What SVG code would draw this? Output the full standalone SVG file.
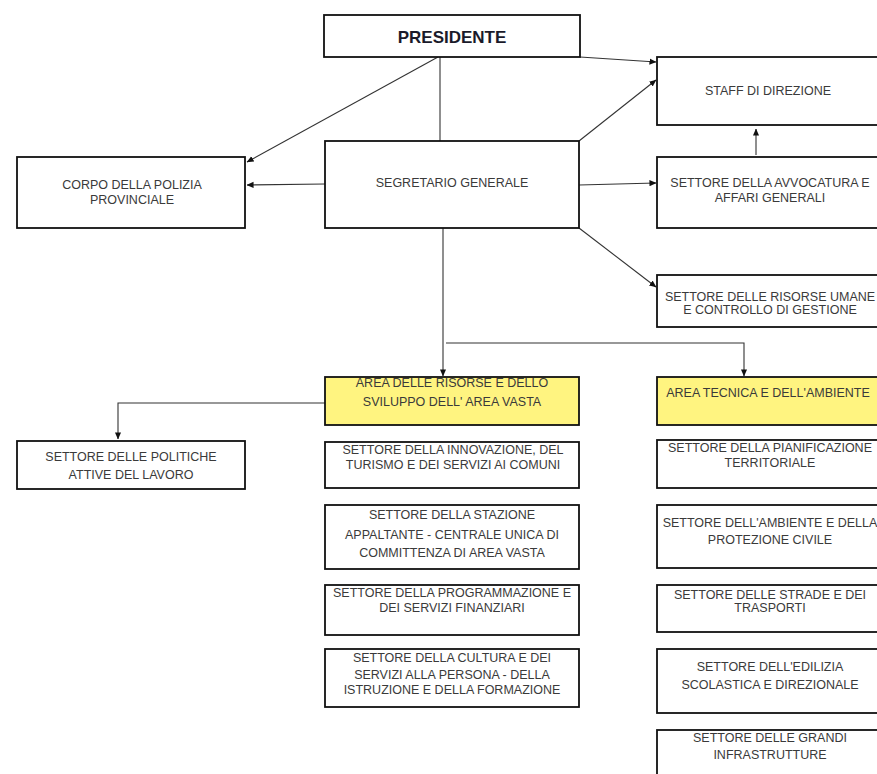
<svg xmlns="http://www.w3.org/2000/svg" width="877" height="774" viewBox="0 0 877 774">
<style>
.box{fill:#fff;stroke:#111;stroke-width:1.8}
.area{fill:#fff480;stroke:#111;stroke-width:1.8}
.t{font-family:"Liberation Sans",Arial,sans-serif;font-size:12.5px;fill:#3a3a3a;text-anchor:middle}
.tb{font-family:"Liberation Sans",Arial,sans-serif;font-size:17px;font-weight:bold;fill:#1a1a2a;text-anchor:middle}
.c{fill:none;stroke:#333;stroke-width:1.1}
</style>
<defs>
<marker id="ah" viewBox="0 0 8 8" refX="7.5" refY="4" markerWidth="7" markerHeight="7" markerUnits="userSpaceOnUse" orient="auto">
<path d="M0,0.5 L8,4 L0,7.5 Z" fill="#111"/>
</marker>
</defs>
<rect width="877" height="774" fill="#fff"/>
<g id="connectors">
<line class="c" x1="438" y1="57" x2="247" y2="162" marker-end="url(#ah)"/>
<line class="c" x1="440" y1="57" x2="440" y2="141"/>
<line class="c" x1="580" y1="57" x2="656" y2="62" marker-end="url(#ah)"/>
<line class="c" x1="579" y1="141" x2="656" y2="80" marker-end="url(#ah)"/>
<line class="c" x1="325" y1="184" x2="247" y2="185" marker-end="url(#ah)"/>
<line class="c" x1="579" y1="185" x2="656" y2="183" marker-end="url(#ah)"/>
<line class="c" x1="579" y1="228" x2="656" y2="287" marker-end="url(#ah)"/>
<line class="c" x1="756" y1="155" x2="756" y2="129" marker-end="url(#ah)"/>
<line class="c" x1="443" y1="228" x2="443" y2="376" marker-end="url(#ah)"/>
<path class="c" d="M446,343 H744 V376" marker-end="url(#ah)"/>
<path class="c" d="M325,403 H118 V439" marker-end="url(#ah)"/>
</g>
<g id="presidente">
<rect class="box" x="324" y="15" width="256" height="42"/>
<text class="tb" x="452" y="43">PRESIDENTE</text>
</g>
<g id="staff">
<rect class="box" x="657" y="57" width="230" height="68"/>
<text class="t" x="768" y="95">STAFF DI DIREZIONE</text>
</g>
<g id="corpo">
<rect class="box" x="17" y="157" width="228" height="71"/>
<text class="t" x="132" y="189">CORPO DELLA POLIZIA</text>
<text class="t" x="132" y="204">PROVINCIALE</text>
</g>
<g id="segretario">
<rect class="box" x="325" y="141" width="254" height="87"/>
<text class="t" x="452" y="187">SEGRETARIO GENERALE</text>
</g>
<g id="avvocatura">
<rect class="box" x="657" y="157" width="230" height="71"/>
<text class="t" x="770" y="187">SETTORE DELLA AVVOCATURA E</text>
<text class="t" x="770" y="202">AFFARI GENERALI</text>
</g>
<g id="risorse-umane">
<rect class="box" x="657" y="275" width="230" height="52"/>
<text class="t" x="770" y="301">SETTORE DELLE RISORSE UMANE</text>
<text class="t" x="770" y="314">E CONTROLLO DI GESTIONE</text>
</g>
<g id="area-risorse">
<rect class="area" x="325" y="377" width="254" height="48"/>
<text class="t" x="452" y="387">AREA DELLE RISORSE E DELLO</text>
<text class="t" x="452" y="406">SVILUPPO DELL' AREA VASTA</text>
</g>
<g id="politiche">
<rect class="box" x="17" y="441" width="228" height="48"/>
<text class="t" x="131" y="461">SETTORE DELLE POLITICHE</text>
<text class="t" x="131" y="479">ATTIVE DEL LAVORO</text>
</g>
<g id="innovazione">
<rect class="box" x="325" y="442" width="254" height="46"/>
<text class="t" x="453" y="454">SETTORE DELLA INNOVAZIONE, DEL</text>
<text class="t" x="453" y="469">TURISMO E DEI SERVIZI AI COMUNI</text>
</g>
<g id="stazione">
<rect class="box" x="325" y="505" width="254" height="64"/>
<text class="t" x="452" y="519">SETTORE DELLA STAZIONE</text>
<text class="t" x="452" y="539">APPALTANTE - CENTRALE UNICA DI</text>
<text class="t" x="452" y="557">COMMITTENZA  DI AREA VASTA</text>
</g>
<g id="programmazione">
<rect class="box" x="325" y="585" width="254" height="50"/>
<text class="t" x="452" y="597">SETTORE DELLA PROGRAMMAZIONE E</text>
<text class="t" x="452" y="612">DEI  SERVIZI FINANZIARI</text>
</g>
<g id="cultura">
<rect class="box" x="325" y="649" width="254" height="58"/>
<text class="t" x="452" y="662">SETTORE DELLA CULTURA E DEI</text>
<text class="t" x="452" y="679">SERVIZI ALLA PERSONA - DELLA</text>
<text class="t" x="452" y="694">ISTRUZIONE E DELLA FORMAZIONE</text>
</g>
<g id="area-tecnica">
<rect class="area" x="657" y="377" width="230" height="48"/>
<text class="t" x="768" y="397">AREA TECNICA E DELL'AMBIENTE</text>
</g>
<g id="pianificazione">
<rect class="box" x="657" y="440" width="230" height="48"/>
<text class="t" x="770" y="452">SETTORE DELLA PIANIFICAZIONE</text>
<text class="t" x="770" y="467">TERRITORIALE</text>
</g>
<g id="ambiente">
<rect class="box" x="657" y="505" width="230" height="63"/>
<text class="t" x="770" y="527">SETTORE DELL'AMBIENTE E DELLA</text>
<text class="t" x="770" y="544">PROTEZIONE CIVILE</text>
</g>
<g id="strade">
<rect class="box" x="657" y="585" width="230" height="47"/>
<text class="t" x="770" y="599">SETTORE DELLE STRADE E DEI</text>
<text class="t" x="770" y="612">TRASPORTI</text>
</g>
<g id="edilizia">
<rect class="box" x="657" y="649" width="230" height="64"/>
<text class="t" x="770" y="671">SETTORE DELL'EDILIZIA</text>
<text class="t" x="770" y="689">SCOLASTICA E DIREZIONALE</text>
</g>
<g id="infrastrutture">
<rect class="box" x="657" y="730" width="230" height="60"/>
<text class="t" x="770" y="742">SETTORE DELLE GRANDI</text>
<text class="t" x="770" y="759">INFRASTRUTTURE</text>
</g>
</svg>
